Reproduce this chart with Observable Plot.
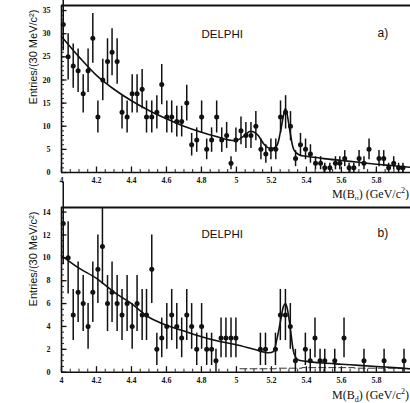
<!DOCTYPE html>
<html><head><meta charset="utf-8">
<script src="https://cdn.jsdelivr.net/npm/d3@7"></script>
<script src="https://cdn.jsdelivr.net/npm/@observablehq/plot@0.6"></script>
<style>
html,body{margin:0;padding:0;background:#fff;}
#wrap{position:relative;width:410px;height:403px;overflow:hidden;background:#fff;}
#wrap svg{position:absolute;left:0;}
</style></head><body><div id="wrap"></div>
<script>
// ---- panel a) M(B_u) ----
const massA = [4.010,4.038,4.067,4.095,4.124,4.152,4.179,4.208,4.236,4.263,4.289,4.318,4.346,4.375,4.404,4.432,4.461,4.486,
  4.516,4.545,4.573,4.602,4.630,4.659,4.687,4.716,4.744,4.773,4.801,4.830,4.858,4.887,4.916,4.944,4.969,4.997,
  5.026,5.054,5.083,5.111,5.140,5.168,5.197,5.225,5.252,5.281,5.309,5.338,5.366,5.395,5.423,5.452,5.481,
  5.505,5.534,5.566,5.591,5.619,5.644,5.671,5.701,5.729,5.758,5.815,5.842,5.870,5.899,5.927,5.952];
const countsA = [32,25,23,22,17,22,29,12,20,24,26,24,13,12,17,17,18,12,
  12,13,19,12,12,11,11,15,6,7,12,5,7,12,7,8,2,7,
  9,8,8,10,5,4,5,5,12,13,10,3,6,5,4,2,2,
  1,1,2,2,3,1,1,3,2,5,3,3,1,2,1,1];
const fitMassA = [4.00,4.10,4.20,4.30,4.40,4.50,4.60,4.70,4.80,4.90,4.96,5.00,5.04,5.08,5.12,5.16,5.20,5.23,5.25,5.27,5.28,5.29,5.31,5.33,5.36,5.40,5.50,5.60,5.70,5.80,5.90,6.00];
const fitA = [29.4,25,21,18,15.5,13.4,11.6,10.0,8.7,7.6,7.0,6.9,7.8,8.9,8.2,6.0,5.1,5.8,8.5,12.5,13.8,12.5,8.0,4.8,3.8,3.5,3.0,2.6,2.2,1.8,1.45,1.1];
const yTicksA = [0,5,10,15,20,25,30,35];

// ---- panel b) M(B_d) ----
const massB = [4.010,4.038,4.067,4.095,4.124,4.152,4.179,4.208,4.234,4.263,4.289,4.318,4.346,4.375,4.404,4.432,4.461,4.486,
  4.516,4.545,4.573,4.602,4.630,4.659,4.687,4.716,4.744,4.773,4.801,4.830,4.858,4.883,4.912,4.940,4.969,4.997,
  5.137,5.166,5.223,5.251,5.280,5.308,5.337,5.394,5.422,5.449,5.478,5.505,5.562,5.615,5.729,5.844,5.958];
const countsB = [13,10,5,7,6,4,7,9,11,6,7,6,5,6,4,6,5,5,
  9,2,3,4,5,4,3,5,4,2,4,2,2,1,3,3,3,3,
  2,2,2,5,5,4,1,2,1,3,1,1,1,3,1,1,1];
const fitMassB = [4.00,4.10,4.20,4.30,4.40,4.50,4.60,4.70,4.80,4.90,5.00,5.10,5.18,5.21,5.23,5.25,5.27,5.28,5.29,5.31,5.33,5.35,5.40,5.50,5.60,5.70,5.80,5.90,6.00];
const fitB = [10.2,9.1,8.2,7.0,6.0,4.8,4.1,3.6,3.1,2.7,2.4,2.0,1.7,1.8,2.8,4.3,5.8,6.0,5.6,3.6,1.6,1.1,0.95,0.8,0.7,0.6,0.5,0.4,0.3];
// faint dashed histogram near zero in panel b
const lowMassB = [5.02,5.15,5.30,5.45,5.60,5.75,5.90,6.00];
const lowB = [0.3,0.3,0.35,0.4,0.4,0.35,0.35,0.3];
const yTicksB = [0,2,4,6,8,10,12,14];

// ---- shared axis ----
const xTicks = [4,4.2,4.4,4.6,4.8,5,5.2,5.4,5.6,5.8];
const xTickLabels = ["4","4.2","4.4","4.6","4.8","5","5.2","5.4","5.6","5.8"];
const yTitle = "Entries/(30 MeV/c²)";

const X0 = 4, X1 = 5.995, W = 410, ML = 61;

function panel({mass, counts, fitMass, fitVals, lowMass, lowVals, yMax, yTicks, yMinorStep, height, marginTop, marginBottom, titleY, tag, sub, top}) {
  const pts = mass.map((m, i) => ({m, n: counts[i], lo: Math.max(0, counts[i] - Math.sqrt(counts[i])), hi: counts[i] + Math.sqrt(counts[i])}));
  const fit = fitMass.map((m, i) => ({m, v: fitVals[i]}));
  const low = (lowMass || []).map((m, i) => ({m, v: lowVals[i]}));
  const pyPerUnit = (height - marginTop - marginBottom) / yMax;
  const pxPerUnit = (W - ML) / (X1 - X0);
  const xMinor = d3.range(0, 41).map(k => X0 + k * 0.05).filter(v => v < X1);
  const yMinor = d3.range(0, Math.floor(yMax / yMinorStep) + 1).map(k => k * yMinorStep);
  const svg = Plot.plot({
    width: W, height, marginLeft: ML, marginRight: 0, marginTop, marginBottom,
    x: {domain: [X0, X1]},
    y: {domain: [0, yMax]},
    style: {fontFamily: "'Liberation Serif', 'DejaVu Serif', serif", fontWeight: "bold", fontSize: "8px", color: "#111", background: "white", overflow: "visible"},
    marks: [
      // minor / major ticks pointing inward
      Plot.ruleX(xMinor, {x: d => d, y1: 0, y2: 3 / pyPerUnit, stroke: "#222", strokeWidth: 1}),
      Plot.ruleX(xTicks, {x: d => d, y1: 0, y2: 5.5 / pyPerUnit, stroke: "#111", strokeWidth: 1.3}),
      Plot.ruleY(yMinor, {y: d => d, x1: X0, x2: X0 + 3 / pxPerUnit, stroke: "#222", strokeWidth: 1}),
      Plot.ruleY(yTicks, {y: d => d, x1: X0, x2: X0 + 5.5 / pxPerUnit, stroke: "#111", strokeWidth: 1.3}),
      // faint dashed histogram
      Plot.line(low, {x: "m", y: "v", curve: "step", stroke: "#333", strokeWidth: 1, strokeDasharray: "7,3"}),
      // frame
      Plot.ruleX([X0], {stroke: "#111", strokeWidth: 1.6}),
      Plot.ruleY([0], {stroke: "#111", strokeWidth: 1.6}),
      Plot.ruleY([yMax], {stroke: "#111", strokeWidth: 1.8}),
      // data
      Plot.line(fit, {x: "m", y: "v", curve: "catmull-rom", stroke: "#111", strokeWidth: 1.6}),
      Plot.ruleX(pts, {x: "m", y1: "lo", y2: "hi", stroke: "#111", strokeWidth: 1.5}),
      Plot.dot(pts, {x: "m", y: "n", r: 2.5, fill: "#111", stroke: "none"}),
      // axes labels
      Plot.axisX({ticks: xTicks, tickSize: 0, tickPadding: 5, tickFormat: d => xTickLabels[xTicks.indexOf(d)], label: null}),
      Plot.axisY({ticks: yTicks, tickSize: 0, tickPadding: 11, label: null}),
      // annotations
      Plot.text(["DELPHI"], {frameAnchor: "top-left", dx: 140, dy: 29 - marginTop, textAnchor: "start", fontFamily: "'Liberation Sans', Arial, sans-serif", fontWeight: "normal", fontSize: 11.5, fill: "#111"}),
      Plot.text([tag], {frameAnchor: "top-left", dx: 316, dy: 28 - marginTop, textAnchor: "start", fontFamily: "'Liberation Sans', Arial, sans-serif", fontWeight: "normal", fontSize: 12, fill: "#111"})
    ]
  });
  svg.style.top = top + "px";
  const s = d3.select(svg);
  // x-axis title with subscript & superscript
  const t = s.append("text")
    .attr("x", 409).attr("y", titleY)
    .attr("text-anchor", "end")
    .style("font-family", "'Liberation Serif', 'DejaVu Serif', serif")
    .style("font-weight", "normal")
    .style("font-size", "12px")
    .attr("fill", "#111");
  t.append("tspan").text("M(B");
  t.append("tspan").attr("dy", 3).style("font-size", "8px").text(sub);
  t.append("tspan").attr("dy", -3).text(") (GeV/c");
  t.append("tspan").attr("dy", -5).style("font-size", "8px").text("2");
  t.append("tspan").attr("dy", 5).text(")");
  // y-axis title
  s.append("text")
    .attr("transform", `translate(37,${marginTop + 52}) rotate(-90)`)
    .attr("text-anchor", "middle")
    .style("font-family", "'Liberation Sans', Arial, sans-serif")
    .style("font-weight", "normal")
    .style("font-size", "11px")
    .attr("fill", "#111")
    .text(yTitle);
  return svg;
}

const wrap = document.getElementById("wrap");
wrap.appendChild(panel({mass: massA, counts: countsA, fitMass: fitMassA, fitVals: fitA, yMax: 36.1, yTicks: yTicksA, yMinorStep: 1,
  height: 200, marginTop: 5, marginBottom: 28, titleY: 198, tag: "a)", sub: "u", top: 0}));
wrap.appendChild(panel({mass: massB, counts: countsB, fitMass: fitMassB, fitVals: fitB, lowMass: lowMassB, lowVals: lowB, yMax: 14.4, yTicks: yTicksB, yMinorStep: 0.5,
  height: 203, marginTop: 7, marginBottom: 31.3, titleY: 199, tag: "b)", sub: "d", top: 200}));
</script>
</body></html>
